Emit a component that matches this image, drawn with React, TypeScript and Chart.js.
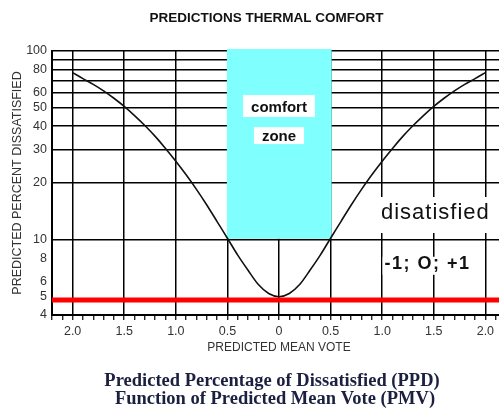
import React, { useEffect, useRef } from 'react';
import { Chart, registerables } from 'chart.js';

Chart.register(...registerables);

// Predicted Mean Vote (x) and Predicted Percent Dissatisfied (y)
const pmvValues = [
  -2.0, -1.9, -1.8, -1.7, -1.6, -1.5, -1.4, -1.3, -1.2, -1.1, -1.0,
  -0.9, -0.8, -0.7, -0.6, -0.5, -0.4, -0.3, -0.2, -0.1, 0.0,
  0.1, 0.2, 0.3, 0.4, 0.5, 0.6, 0.7, 0.8, 0.9, 1.0,
  1.1, 1.2, 1.3, 1.4, 1.5, 1.6, 1.7, 1.8, 1.9, 2.0,
];
const ppdValues = [
  76.8, 71.4, 66.6, 61.5, 56.2, 50.9, 45.5, 40.3, 35.3, 30.5, 26.1,
  22.1, 18.5, 15.3, 12.5, 10.2, 8.3, 6.9, 5.8, 5.2, 5.0,
  5.2, 5.8, 6.9, 8.3, 10.2, 12.5, 15.3, 18.5, 22.1, 26.1,
  30.5, 35.3, 40.3, 45.5, 50.9, 56.2, 61.5, 66.6, 71.4, 76.8,
];
// red reference line (~5 % dissatisfied)
const redLineX = [-2.2, 2.2];
const redLineY = [4.8, 4.8];
// comfort zone rectangle
const comfortZoneX = [-0.5, 0.5];
const comfortZoneY = [10, 100];

// axis ticks
const xMin = -2.2;
const xMax = 2.2;
const xMinorTicks = [
  -2.2, -2.1, -2.0, -1.9, -1.8, -1.7, -1.6, -1.5, -1.4, -1.3, -1.2, -1.1, -1.0,
  -0.9, -0.8, -0.7, -0.6, -0.5, -0.4, -0.3, -0.2, -0.1, 0,
  0.1, 0.2, 0.3, 0.4, 0.5, 0.6, 0.7, 0.8, 0.9, 1.0,
  1.1, 1.2, 1.3, 1.4, 1.5, 1.6, 1.7, 1.8, 1.9, 2.0, 2.1, 2.2,
];
const xMajorTicks = [-2, -1.5, -1, -0.5, 0, 0.5, 1, 1.5, 2];
const xMajorLabels = ['2.0', '1.5', '1.0', '0.5', '0', '0.5', '1.0', '1.5', '2.0'];
const yMin = 4;
const yMax = 100;
const yTickValues = [4, 5, 6, 8, 10, 20, 30, 40, 50, 60, 70, 80, 90, 100];
const yTickLabels = ['4', '5', '6', '8', '10', '20', '30', '40', '50', '60', '', '80', '', '100'];
const yGridFrom = 10;

// texts
const chartTitle = 'PREDICTIONS THERMAL COMFORT';
const xTitle = 'PREDICTED MEAN VOTE';
const yTitle = 'PREDICTED PERCENT DISSATISFIED';
const captionLines = [
  'Predicted Percentage of Dissatisfied (PPD)',
  'Function of Predicted Mean Vote (PMV)',
];
const noteTexts = ['comfort', 'zone', 'disatisfied', '-1; O; +1'];
const noteX = [0, 0, 1.515, 1.44];
const noteY = [49.9, 35.0, 13.87, 7.47];

const SANS = '"Liberation Sans", Arial, Helvetica, sans-serif';
const SERIF = '"Liberation Serif", "Times New Roman", serif';

const isMajor = (v: number | undefined) =>
  v !== undefined && xMajorTicks.some((m) => Math.abs(m - v) < 1e-6);

const notePlugin = {
  id: 'notes',
  beforeDatasetsDraw(chart: any) {
    const { ctx, scales } = chart;
    const xs = scales.x;
    const ys = scales.y;
    ctx.save();
    // comfort zone
    const zx0 = xs.getPixelForValue(comfortZoneX[0]) - 0.5;
    const zx1 = xs.getPixelForValue(comfortZoneX[1]) + 1;
    const zy0 = ys.getPixelForValue(comfortZoneY[1]) - 2;
    const zy1 = ys.getPixelForValue(comfortZoneY[0]) - 1;
    ctx.fillStyle = '#80ffff';
    ctx.fillRect(zx0, zy0, zx1 - zx0, zy1 - zy0);

    const styles = [
      { font: `bold 15px ${SANS}`, padX: 8, h: 22, dy: -2, ls: '0px' },
      { font: `bold 15px ${SANS}`, padX: 8, h: 17, dy: -1.5, ls: '0px' },
      { font: `22px ${SANS}`, padX: 11, h: 36, dy: 2, ls: '1px' },
      { font: `bold 18px ${SANS}`, padX: 2, h: 18, dy: 2, ls: '1.5px' },
    ];
    noteTexts.forEach((t, i) => {
      const st = styles[i];
      const cx = xs.getPixelForValue(noteX[i]);
      const cy = ys.getPixelForValue(noteY[i]);
      ctx.font = st.font;
      (ctx as any).letterSpacing = st.ls;
      const w = ctx.measureText(t).width;
      ctx.fillStyle = '#ffffff';
      ctx.fillRect(cx - w / 2 - st.padX, cy + st.dy - st.h / 2, w + 2 * st.padX, st.h);
      ctx.fillStyle = '#111111';
      ctx.textAlign = 'center';
      ctx.textBaseline = 'middle';
      ctx.fillText(t, cx, cy);
    });
    (ctx as any).letterSpacing = '0px';
    ctx.restore();
  },
  afterDraw(chart: any) {
    const { ctx } = chart;
    ctx.save();
    ctx.textAlign = 'center';
    ctx.textBaseline = 'middle';
    ctx.fillStyle = '#111111';
    ctx.font = `bold 13.5px ${SANS}`;
    ctx.fillText(chartTitle, 266.5, 18);
    ctx.fillStyle = '#1c2040';
    ctx.font = `bold 18.5px ${SERIF}`;
    ctx.fillText(captionLines[0], 272, 381);
    ctx.fillText(captionLines[1], 275, 399);
    ctx.restore();
  },
};

export default function App() {
  const ref = useRef<HTMLCanvasElement | null>(null);

  useEffect(() => {
    if (!ref.current) return;
    const chart = new Chart(ref.current, {
      type: 'line',
      data: {
        datasets: [
          {
            label: 'red',
            data: redLineX.map((x, i) => ({ x, y: redLineY[i] })),
            borderColor: '#ff0000',
            borderWidth: 5,
            pointRadius: 0,
            tension: 0,
          },
          {
            label: 'PPD',
            data: pmvValues.map((x, i) => ({ x, y: ppdValues[i] })),
            borderColor: '#111111',
            borderWidth: 1.6,
            pointRadius: 0,
            tension: 0.3,
          },
        ],
      },
      options: {
        animation: false,
        responsive: false,
        devicePixelRatio: 1,
        layout: { padding: { top: 51, left: 0, right: 2, bottom: 48 } },
        plugins: {
          legend: { display: false },
          tooltip: { enabled: false },
          title: { display: false },
        },
        scales: {
          x: {
            type: 'linear',
            min: xMin,
            max: xMax,
            afterBuildTicks: (s: any) => {
              s.ticks = xMinorTicks.map((v) => ({ value: v }));
            },
            afterFit: (s: any) => {
              s.height = 45;
            },
            grid: {
              color: (c: any) => (isMajor(c.tick?.value) ? '#000000' : 'rgba(0,0,0,0)'),
              tickColor: '#000000',
              tickLength: 5,
              tickWidth: 1.2,
              lineWidth: 1.5,
            },
            border: { color: '#000000', width: 2 },
            ticks: {
              autoSkip: false,
              maxRotation: 0,
              minRotation: 0,
              padding: 4,
              color: '#333333',
              font: { family: SANS, size: 12.5 },
              callback: (value: any) => {
                const idx = xMajorTicks.findIndex((m) => Math.abs(m - Number(value)) < 1e-6);
                return idx >= 0 ? xMajorLabels[idx] : '';
              },
            },
            title: {
              display: true,
              text: xTitle,
              color: '#333333',
              font: { family: SANS, size: 12 },
              padding: { top: 0, bottom: 5 },
            },
          },
          y: {
            type: 'logarithmic',
            min: yMin,
            max: yMax,
            afterBuildTicks: (s: any) => {
              s.ticks = yTickValues.map((v) => ({ value: v }));
            },
            afterFit: (s: any) => {
              s.width = 52;
            },
            grid: {
              color: (c: any) =>
                c.tick && c.tick.value >= yGridFrom ? '#000000' : 'rgba(0,0,0,0)',
              lineWidth: 1.5,
              drawTicks: false,
            },
            border: { color: '#000000', width: 2 },
            ticks: {
              autoSkip: false,
              padding: 5,
              color: '#333333',
              font: { family: SANS, size: 12.5 },
              callback: (value: any) => {
                const idx = yTickValues.indexOf(Number(value));
                return idx >= 0 ? yTickLabels[idx] : '';
              },
            },
            title: {
              display: true,
              text: yTitle,
              color: '#333333',
              font: { family: SANS, size: 12.5 },
              padding: { top: 10.5, bottom: 0 },
            },
          },
        },
      },
      plugins: [notePlugin],
    } as any);
    return () => chart.destroy();
  }, []);

  return (
    <div
      style={{
        position: 'fixed',
        left: 0,
        top: 0,
        width: 499,
        height: 408,
        overflow: 'hidden',
        background: '#ffffff',
      }}
    >
      <canvas ref={ref} width={510} height={408} style={{ display: 'block' }} />
    </div>
  );
}
